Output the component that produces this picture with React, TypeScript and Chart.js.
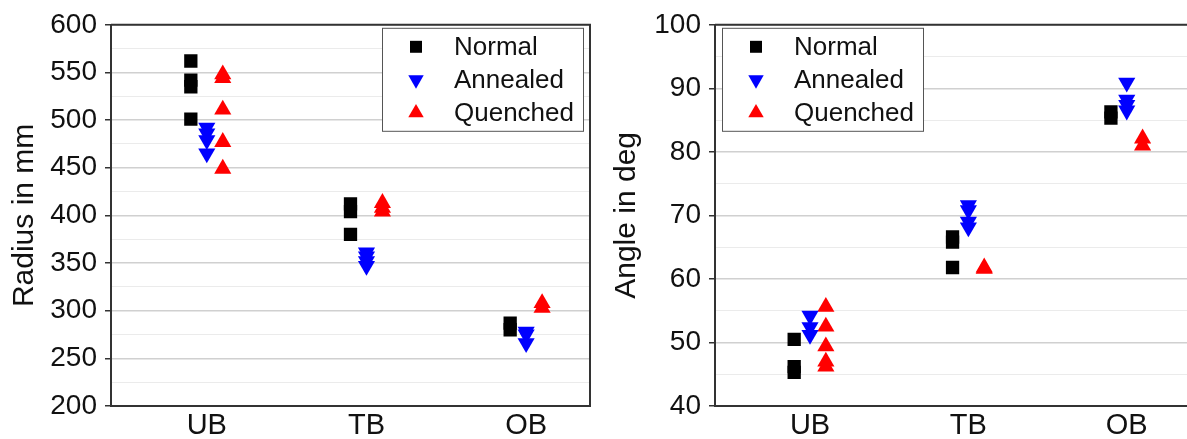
import React, { useEffect, useRef } from 'react';
import { Chart, registerables } from 'chart.js';

Chart.register(...registerables);

// ---------- data ----------
const categories = ['UB', 'TB', 'OB'];
const seriesLabels = ['Normal', 'Annealed', 'Quenched'];

// radius in mm, per category
const radiusNormal = [[562, 542, 535, 501], [412, 404, 380], [287, 280]];
const radiusAnnealed = [[492, 486, 479, 465], [361, 357, 352, 347], [278, 275, 266]];
const radiusQuenched = [[548, 544, 511, 477, 449], [413, 408, 404], [308, 303]];

// angle in deg, per category
const angleNormal = [[50.5, 46.2, 45.3], [66.6, 65.8, 61.8], [86.3, 85.3]];
const angleAnnealed = [[54.2, 52.4, 51.2], [71.6, 70.8, 69.0, 68.1], [90.9, 88.2, 87.4, 86.5]];
const angleQuenched = [[55.6, 52.5, 49.4, 47.0, 46.2], [61.8, 61.6], [82.1, 81.0]];

const radiusAxis = { min: 200, max: 600, major: 50, minor: 25 };
const angleAxis = { min: 40, max: 100, major: 10, minor: 5 };

// ---------- style ----------
const FONT = '"Liberation Sans", Arial, Helvetica, sans-serif';
const seriesOffsets = [-0.1, 0, 0.1];
const seriesColors = ['#000000', '#0000ff', '#ff0000'];
const seriesStyles = ['rect', 'triangle', 'triangle'];
const seriesRotations = [0, 180, 0];
const seriesRadii = [9.4, 9.9, 9.9];

function drawMarker(ctx: CanvasRenderingContext2D, style: string, rot: number, x: number, y: number, r: number) {
  ctx.beginPath();
  if (style === 'rect') {
    const s = r * Math.SQRT2;
    ctx.rect(x - s / 2, y - s / 2, s, s);
  } else {
    const d = rot === 180 ? -1 : 1;
    ctx.moveTo(x, y - d * r);
    ctx.lineTo(x + 0.866 * r, y + d * 0.5 * r);
    ctx.lineTo(x - 0.866 * r, y + d * 0.5 * r);
    ctx.closePath();
  }
  ctx.fill();
}

const framePlugin = {
  id: 'frame',
  afterDraw(chart: any) {
    const { ctx, chartArea } = chart;
    ctx.save();
    ctx.strokeStyle = '#333';
    ctx.lineWidth = 2;
    ctx.beginPath();
    ctx.moveTo(chartArea.left, chartArea.top);
    ctx.lineTo(chartArea.right, chartArea.top);
    ctx.lineTo(chartArea.right, chartArea.bottom);
    ctx.stroke();
    ctx.restore();
  },
};

const boxLegendPlugin = {
  id: 'boxLegend',
  afterDraw(chart: any, _args: any, opts: any) {
    const { ctx, chartArea } = chart;
    const bx = opts.side === 'right' ? chartArea.right - opts.inset - opts.w : chartArea.left + opts.inset;
    const by = chartArea.top + opts.top;
    ctx.save();
    ctx.fillStyle = '#ffffff';
    ctx.fillRect(bx, by, opts.w, opts.h);
    ctx.strokeStyle = '#555';
    ctx.lineWidth = 1;
    ctx.strokeRect(bx + 0.5, by + 0.5, opts.w, opts.h);
    chart.data.datasets.forEach((ds: any, i: number) => {
      const cy = by + opts.rows[i];
      ctx.fillStyle = ds.backgroundColor;
      drawMarker(ctx, ds.pointStyle, ds.pointRotation, bx + opts.markerX, cy, ds.pointRadius * 0.9);
      ctx.fillStyle = '#111';
      ctx.font = `${opts.fontSize}px ${FONT}`;
      ctx.textBaseline = 'middle';
      ctx.textAlign = 'left';
      ctx.fillText(ds.label, bx + opts.textX, cy + 1);
    });
    ctx.restore();
  },
};

function buildDatasets(series: number[][][]) {
  return series.map((perCat, i) => ({
    label: seriesLabels[i],
    data: perCat.flatMap((vals, c) => vals.map((v) => ({ x: c + 1 + seriesOffsets[i], y: v }))),
    pointStyle: seriesStyles[i],
    pointRotation: seriesRotations[i],
    pointRadius: seriesRadii[i],
    pointHoverRadius: seriesRadii[i],
    backgroundColor: seriesColors[i],
    borderColor: seriesColors[i],
    borderWidth: 0,
    showLine: false,
  }));
}

interface PanelProps {
  title: string;
  series: number[][][];
  axis: { min: number; max: number; major: number; minor: number };
  legendSide: 'left' | 'right';
  yAxisWidth: number;
  padRight: number;
  titlePad: number;
  left: number;
}

function Panel(p: PanelProps) {
  const ref = useRef<HTMLCanvasElement | null>(null);
  useEffect(() => {
    if (!ref.current) return;
    const { axis } = p;
    const chart = new Chart(ref.current, {
      type: 'scatter',
      data: { datasets: buildDatasets(p.series) as any },
      plugins: [framePlugin, boxLegendPlugin],
      options: {
        animation: false,
        responsive: false,
        events: [],
        layout: { padding: { top: 24, right: p.padRight, bottom: 0, left: 0 } },
        plugins: {
          legend: { display: false },
          tooltip: { enabled: false },
          boxLegend: {
            side: p.legendSide,
            inset: 7,
            top: 3,
            w: 201,
            h: 103,
            markerX: 34,
            textX: 72,
            rows: [19, 52, 85],
            fontSize: 26,
          },
        } as any,
        scales: {
          x: {
            type: 'linear',
            min: 0.4,
            max: 3.4,
            afterBuildTicks: (s: any) => {
              s.ticks = categories.map((_, i) => ({ value: i + 1 }));
            },
            afterFit: (s: any) => {
              s.height = 33;
            },
            ticks: {
              autoSkip: false,
              maxRotation: 0,
              padding: 3,
              color: '#111',
              font: { family: FONT, size: 29 },
              callback: (v: any) => categories[Math.round(Number(v)) - 1] ?? '',
            },
            grid: { display: false, drawTicks: false },
            border: { display: true, color: '#333', width: 2 },
          },
          y: {
            type: 'linear',
            min: axis.min,
            max: axis.max,
            afterBuildTicks: (s: any) => {
              const t = [];
              for (let v = axis.min; v <= axis.max; v += axis.minor) t.push({ value: v });
              s.ticks = t;
            },
            afterFit: (s: any) => {
              s.width = p.yAxisWidth;
            },
            ticks: {
              autoSkip: false,
              padding: 8,
              color: '#111',
              font: { family: FONT, size: 28 },
              callback: (v: any) => (Number(v) % axis.major === 0 ? String(v) : ''),
            },
            grid: {
              color: (c: any) => (c.tick && c.tick.value % axis.major === 0 ? '#d0d0d0' : '#ebebeb'),
              lineWidth: (c: any) => (c.tick && c.tick.value % axis.major === 0 ? 1.5 : 1),
              tickColor: (c: any) => (c.tick && c.tick.value % axis.major === 0 ? '#333' : 'rgba(0,0,0,0)'),
              tickLength: 6,
              tickWidth: 1.5,
            },
            border: { display: true, color: '#333', width: 2 },
            title: {
              display: true,
              text: p.title,
              color: '#111',
              font: { family: FONT, size: 30 },
              padding: { top: p.titlePad, bottom: 0 },
            },
          },
        },
      } as any,
    });
    return () => chart.destroy();
  }, []);
  return (
    <canvas
      ref={ref}
      width={600}
      height={439}
      style={{ position: 'absolute', left: p.left, top: 0, width: 600, height: 439 }}
    />
  );
}

export default function App() {
  return (
    <div
      style={{
        position: 'fixed',
        left: 0,
        top: 0,
        width: 1187,
        height: 439,
        overflow: 'hidden',
        background: '#ffffff',
      }}
    >
      <Panel
        title="Radius in mm"
        series={[radiusNormal, radiusAnnealed, radiusQuenched]}
        axis={radiusAxis}
        legendSide="right"
        yAxisWidth={111}
        padRight={10}
        titlePad={7}
        left={0}
      />
      <Panel
        title="Angle in deg"
        series={[angleNormal, angleAnnealed, angleQuenched]}
        axis={angleAxis}
        legendSide="left"
        yAxisWidth={115}
        padRight={6}
        titlePad={9}
        left={600}
      />
    </div>
  );
}
